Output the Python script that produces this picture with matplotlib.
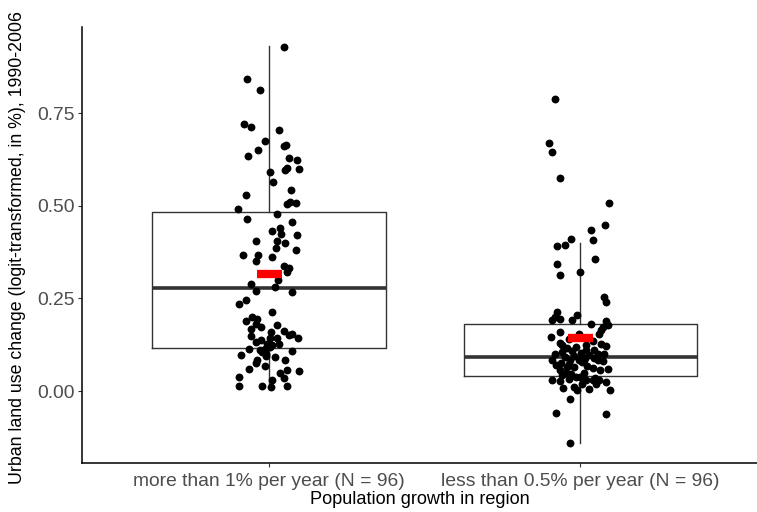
import matplotlib
matplotlib.use("Agg")
import matplotlib.pyplot as plt

# ---- data ----
categories = ["more than 1% per year (N = 96)", "less than 0.5% per year (N = 96)"]

values_high = [0.928, 0.842, 0.811, 0.720, 0.711, 0.705, 0.675, 0.665, 0.660, 0.651,
               0.634, 0.630, 0.624, 0.596, 0.601, 0.598, 0.591, 0.563, 0.541, 0.529,
               0.505, 0.511, 0.508, 0.490, 0.477, 0.465, 0.455, 0.439, 0.431, 0.424,
               0.420, 0.406, 0.406, 0.399, 0.386, 0.380, 0.367, 0.367, 0.352, 0.362,
               0.338, 0.331, 0.321, 0.300, 0.288, 0.271, 0.282, 0.268, 0.245, 0.236,
               0.212, 0.200, 0.189, 0.180, 0.178, 0.167, 0.162, 0.155, 0.151, 0.143,
               0.148, 0.144, 0.142, 0.133, 0.126, 0.123, 0.114, 0.110, 0.114, 0.106,
               0.101, 0.108, 0.098, 0.094, 0.091, 0.085, 0.083, 0.076, 0.068, 0.059,
               0.056, 0.050, 0.055, 0.035, 0.038, 0.030, 0.015, 0.013, 0.013, 0.010,
               0.137, 0.119, 0.172, 0.195, 0.128, 0.160]
jitter_high = [0.047, -0.069, -0.030, -0.079, -0.059, 0.034, -0.011, 0.056, 0.050, -0.034,
               -0.066, 0.066, 0.091, 0.053, 0.059, 0.098, 0.002, 0.014, 0.072, -0.075,
               0.059, 0.069, 0.088, -0.098, 0.027, -0.069, 0.075, 0.037, 0.011, 0.040,
               0.091, -0.040, 0.027, 0.053, 0.024, 0.088, -0.082, -0.034, -0.040, 0.011,
               0.047, 0.063, 0.059, 0.030, -0.056, -0.043, 0.021, 0.075, -0.072, -0.095,
               0.011, -0.053, -0.072, -0.040, 0.027, -0.059, 0.050, 0.075, 0.063, 0.095,
               -0.056, 0.005, 0.027, -0.040, -0.005, 0.011, -0.063, -0.030, -0.014, -0.021,
               -0.008, 0.075, -0.091, -0.008, 0.021, 0.053, -0.037, -0.040, -0.011, -0.063,
               0.059, 0.037, 0.098, 0.047, -0.095, 0.011, 0.059, -0.095, -0.021, 0.008,
               -0.024, 0.002, -0.024, -0.037, 0.034, 0.008]

values_low = [0.787, 0.669, 0.645, 0.575, 0.508, 0.447, 0.435, 0.407, 0.409, 0.393,
              0.392, 0.356, 0.342, 0.314, 0.320, 0.254, 0.241,
              0.212, 0.193, 0.195, 0.193, 0.204, 0.182, 0.189, 0.178, 0.166, 0.158,
              0.146, 0.155, 0.155, 0.130, 0.124, 0.126, 0.121, 0.108, 0.103, 0.112,
              0.097, 0.106, 0.101, 0.101, 0.083, 0.085, 0.083, 0.083, 0.083, 0.070,
              0.073, 0.068, 0.059, 0.056, 0.056, 0.043, 0.046, 0.038, 0.037, 0.031,
              0.030, 0.030, 0.030, 0.025, 0.007, 0.003, 0.005, 0.003, -0.022, -0.060,
              -0.062, -0.141, 0.173, 0.123, 0.200,
              0.115, 0.095, 0.092, 0.088, 0.078, 0.075, 0.065, 0.062, 0.050, 0.048,
              0.035, 0.033, 0.027, 0.020, 0.018, 0.012, 0.110, 0.100, 0.090, 0.080,
              0.064, 0.140, 0.135, 0.118]
jitter_low = [-0.080, -0.100, -0.090, -0.067, 0.093, 0.080, 0.035, 0.039, -0.029, -0.048,
              -0.074, 0.048, -0.074, -0.064, 0.000, 0.077, 0.083,
              -0.074, -0.090, -0.067, -0.026, -0.010, 0.035, 0.083, 0.087, 0.067, -0.067,
              -0.093, 0.061, -0.006, -0.067, -0.058, 0.067, 0.083, -0.026, 0.003, 0.019,
              0.029, -0.058, 0.055, 0.077, -0.090, -0.032, -0.006, 0.010, 0.058, -0.077,
              -0.035, 0.022, 0.090, 0.064, -0.067, -0.058, -0.029, -0.013, 0.000, 0.019,
              -0.090, 0.039, 0.061, 0.083, -0.055, -0.010, 0.029, 0.096, -0.032, -0.077,
              0.083, -0.032, 0.071, 0.019, -0.080,
              -0.042, -0.019, -0.048, 0.045, 0.006, -0.061, -0.019, 0.039, 0.013, -0.045,
              0.048, -0.035, -0.067, 0.006, 0.051, -0.019, 0.045, -0.080, 0.016, 0.074,
              -0.042, -0.035, 0.042, -0.013]

# box summary
box_whislo = [0.010, -0.141]
box_q1 = [0.116, 0.040]
box_med = [0.278, 0.092]
box_q3 = [0.483, 0.181]
box_whishi = [0.931, 0.399]
group_means = [0.316, 0.143]

yticks = [0.00, 0.25, 0.50, 0.75]
ytick_labels = ["0.00", "0.25", "0.50", "0.75"]

# ---- plot ----
plt.rcParams['font.family'] = ['Liberation Sans', 'DejaVu Sans']
W, H = 757, 512
fig = plt.figure(figsize=(W / 100, H / 100), dpi=100)
ax = fig.add_axes([82 / W, 1 - 463 / H, (W - 82) / W, (463 - 27) / H])

positions = [1, 2]
stats = []
for i in range(2):
    stats.append(dict(med=box_med[i], q1=box_q1[i], q3=box_q3[i],
                      whislo=box_whislo[i], whishi=box_whishi[i], fliers=[]))
ax.bxp(stats, positions=positions, widths=0.75, showfliers=False, showcaps=False,
       boxprops=dict(color="#333333", linewidth=1.0),
       whiskerprops=dict(color="#333333", linewidth=1.0),
       medianprops=dict(color="#333333", linewidth=2.6, solid_capstyle="butt"),
       patch_artist=False, zorder=2)

ax.scatter([positions[0] + j for j in jitter_high], values_high, s=32, color="black",
           linewidths=0, zorder=3)
ax.scatter([positions[1] + j for j in jitter_low], values_low, s=32, color="black",
           linewidths=0, zorder=3)

ax.plot(positions, group_means, linestyle="none", marker="_", markersize=18,
        markeredgewidth=6, color="red", zorder=4)

ax.set_xlim(0.4, 0.4 + 675 / 311.5)
ax.set_ylim(-0.194, 0.982)
ax.set_xticks(positions)
ax.set_xticklabels(categories)
ax.set_yticks(yticks)
ax.set_yticklabels(ytick_labels)

for s in ["top", "right"]:
    ax.spines[s].set_visible(False)
for s in ["left", "bottom"]:
    ax.spines[s].set_color("black")
    ax.spines[s].set_linewidth(1.1)

ax.tick_params(axis="both", length=3, width=0.8, color="#333333",
               labelcolor="#4D4D4D", labelsize=13.9)
ax.tick_params(axis="y", pad=2)
ax.tick_params(axis="x", pad=4.5)

fig.text((82 + W) / 2 / W, 1 - 500 / H, "Population growth in region",
         ha="center", va="center", fontsize=13.1, color="black")
fig.text(18 / W, 1 - 248 / H, "Urban land use change (logit-transformed, in %), 1990-2006",
         ha="center", va="center", rotation=90, fontsize=12.8, color="black")

fig.savefig("out.png", dpi=100)
